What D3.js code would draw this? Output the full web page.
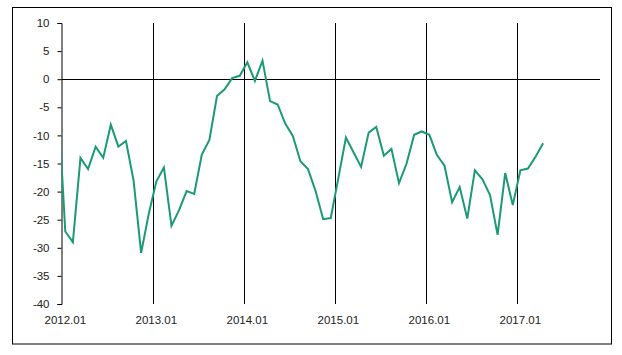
<!DOCTYPE html>
<html>
<head>
<meta charset="utf-8">
<script src="https://cdn.jsdelivr.net/npm/d3@7"></script>
<style>
  html, body { margin: 0; padding: 0; background: #fff; }
  svg { display: block; }
  text { font-family: "Liberation Sans", Arial, sans-serif; font-size: 11.5px; fill: #222; }
</style>
</head>
<body>
<svg id="chart" width="622" height="355"></svg>
<script>
// ---- data ----
// monthly categories shown on the axis (2012.01 .. 2017.11)
const categories = [
  "2012.01","2012.02","2012.03","2012.04","2012.05","2012.06","2012.07","2012.08","2012.09","2012.10","2012.11","2012.12",
  "2013.01","2013.02","2013.03","2013.04","2013.05","2013.06","2013.07","2013.08","2013.09","2013.10","2013.11","2013.12",
  "2014.01","2014.02","2014.03","2014.04","2014.05","2014.06","2014.07","2014.08","2014.09","2014.10","2014.11","2014.12",
  "2015.01","2015.02","2015.03","2015.04","2015.05","2015.06","2015.07","2015.08","2015.09","2015.10","2015.11","2015.12",
  "2016.01","2016.02","2016.03","2016.04","2016.05","2016.06","2016.07","2016.08","2016.09","2016.10","2016.11","2016.12",
  "2017.01","2017.02","2017.03","2017.04","2017.05","2017.06","2017.07","2017.08","2017.09","2017.10","2017.11"
];
// value of the month before the first category (only its segment into the plot is visible)
const priorMonth = "2011.12";
const priorValue = -2.9;
// series values 2012.01 .. 2017.04
const values = [
  -27.1, -29.0, -14.0, -16.0, -12.0, -14.0, -8.1, -12.0, -11.0, -18.0, -30.9, -24.0,
  -18.2, -15.7, -26.1, -23.3, -19.9, -20.4, -13.4, -10.8, -3.0, -1.8, 0.2, 0.6,
  3.0, -0.3, 3.3, -3.9, -4.5, -7.9, -10.1, -14.6, -16.0, -19.9, -24.9, -24.7,
  -17.6, -10.4, -13.0, -15.6, -9.5, -8.5, -13.6, -12.4, -18.5, -15.0, -9.9, -9.3,
  -9.9, -13.5, -15.4, -21.9, -19.2, -24.8, -16.2, -17.8, -20.6, -27.7, -16.7, -22.4,
  -16.2, -15.9, -13.8, -11.4
];
const tickLabels = ["2012.01","2013.01","2014.01","2015.01","2016.01","2017.01"];
const yTicks = [10, 5, 0, -5, -10, -15, -20, -25, -30, -35, -40];

// ---- layout ----
const svg = d3.select("#chart");
const plotLeft = 61.5, plotRight = 600, plotTop = 23, plotBottom = 304;

svg.append("rect")
  .attr("x", 12.5).attr("y", 7.5).attr("width", 599).attr("height", 336.5)
  .attr("fill", "#fff").attr("stroke", "#000").attr("stroke-width", 1);

const x = d3.scaleBand().domain(categories).range([plotLeft, plotRight]).paddingInner(0).paddingOuter(0);
const bw = x.bandwidth();
const y = d3.scaleLinear().domain([-40, 10]).range([plotBottom, plotTop]);

// vertical gridlines at January boundaries
svg.append("g").selectAll("line")
  .data(tickLabels.slice(1))
  .join("line")
  .attr("x1", d => Math.round(x(d)) + 0.5).attr("x2", d => Math.round(x(d)) + 0.5)
  .attr("y1", y(10)).attr("y2", y(-40))
  .attr("stroke", "#000").attr("stroke-width", 1);

// zero line
svg.append("line")
  .attr("x1", plotLeft).attr("x2", plotRight)
  .attr("y1", Math.round(y(0)) + 0.5).attr("y2", Math.round(y(0)) + 0.5)
  .attr("stroke", "#000").attr("stroke-width", 1);

// y axis
const yAxis = d3.axisLeft(y).tickValues(yTicks).tickSize(4).tickPadding(8).tickFormat(d => String(d));
const yg = svg.append("g").attr("transform", `translate(${plotLeft},0)`).call(yAxis);
yg.select(".domain").attr("stroke", "#000");
yg.selectAll(".tick line").attr("stroke", "#000");
yg.selectAll("text").attr("font-family", "Liberation Sans, Arial, sans-serif").attr("font-size", 11.5).attr("fill", "#222");

// x labels (centered on category)
const xAxis = d3.axisBottom(x).tickValues(tickLabels).tickSize(0).tickPadding(0);
const xg = svg.append("g").attr("transform", `translate(0,${plotBottom + 12})`).call(xAxis);
xg.select(".domain").remove();
xg.selectAll("text").attr("font-family", "Liberation Sans, Arial, sans-serif").attr("font-size", 11.5).attr("fill", "#222").attr("dy", "0.71em");

// clip
svg.append("clipPath").attr("id", "plotclip")
  .append("rect").attr("x", plotLeft).attr("y", 0).attr("width", plotRight - plotLeft).attr("height", 355);

const pts = [{x: x(categories[0]) - bw / 2, v: priorValue}]
  .concat(values.map((v, i) => ({x: x(categories[i]) + bw / 2, v})));

const line = d3.line().x(d => d.x).y(d => y(d.v));
svg.append("path")
  .datum(pts)
  .attr("clip-path", "url(#plotclip)")
  .attr("d", line)
  .attr("fill", "none")
  .attr("stroke", "#1a9a76")
  .attr("stroke-width", 2)
  .attr("stroke-linejoin", "miter");
</script>
</body>
</html>
